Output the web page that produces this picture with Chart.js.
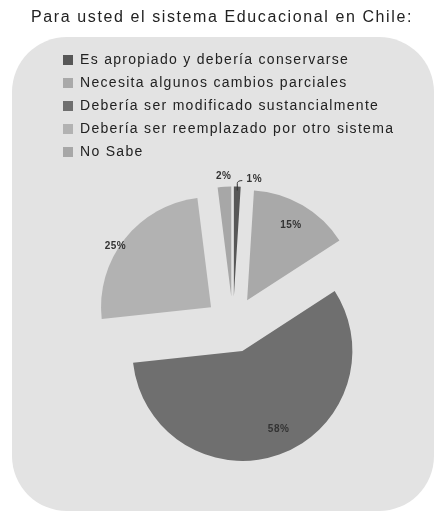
<!DOCTYPE html>
<html>
<head>
<meta charset="utf-8">
<script src="https://cdn.jsdelivr.net/npm/chart.js@4"></script>
<style>
  html, body { margin: 0; padding: 0; background: #fff; }
  #wrap { width: 436px; height: 519px; }
</style>
</head>
<body>
<div id="wrap"><canvas id="pie-chart"></canvas></div>
<script>
// data
const chartTitle = "Para usted el sistema Educacional en Chile:";
const categories = [
    "Es apropiado y debería conservarse",
    "Necesita algunos cambios parciales",
    "Debería ser modificado sustancialmente",
    "Debería ser reemplazado por otro sistema",
    "No Sabe"
];
const percents = [1, 15, 58, 25, 2];

// styling
const sliceColors = ["#575757", "#a9a9a9", "#6f6f6f", "#b2b2b2", "#a7a7a7"];
const sliceShift = [28, 28, 28, 28, 28];   // exploded pie, px
const labelRadius = [1.0, 0.79, 0.78, 1.03, 1.1];
const labelTurn = [0, 0, -0.07, -0.08, 0];  // radians, nudges label off the mid angle

// grey rounded panel + title
const panel = {
    id: 'panel',
    beforeDraw(chart) {
        const ctx = chart.ctx;
        ctx.save();
        ctx.fillStyle = '#ffffff';
        ctx.fillRect(0, 0, chart.width, chart.height);
        ctx.fillStyle = '#e3e3e3';
        ctx.beginPath();
        ctx.roundRect(12, 37, 422, 474, 55);
        ctx.fill();
        ctx.letterSpacing = '1.6px';
        ctx.font = '16px "Liberation Sans"';
        ctx.fillStyle = '#222';
        ctx.textAlign = 'center';
        ctx.textBaseline = 'middle';
        ctx.fillText(chartTitle, 222, 18);
        ctx.restore();
        ctx.letterSpacing = '1.3px';
    }
};

// pull every slice out from the centre without narrowing it
const explode = {
    id: 'explode',
    beforeDatasetDraw(chart, args) {
        const ctx = chart.ctx;
        args.meta.data.forEach((arc, i) => {
            const mid = (arc.startAngle + arc.endAngle) / 2;
            ctx.save();
            ctx.translate(Math.cos(mid) * sliceShift[i], Math.sin(mid) * sliceShift[i]);
            arc.draw(ctx);
            ctx.restore();
        });
        return false;
    }
};

// percentage labels on the slices
const sliceLabels = {
    id: 'sliceLabels',
    afterDatasetsDraw(chart) {
        const ctx = chart.ctx;
        const arcs = chart.getDatasetMeta(0).data;
        ctx.save();
        ctx.letterSpacing = '0.5px';
        ctx.font = 'bold 10px "Liberation Sans"';
        ctx.fillStyle = '#333';
        ctx.textAlign = 'center';
        ctx.textBaseline = 'middle';
        arcs.forEach((arc, i) => {
            const p = arc.getProps(['x', 'y', 'startAngle', 'endAngle', 'outerRadius']);
            const mid = (p.startAngle + p.endAngle) / 2;
            const ang = mid + labelTurn[i];
            const d = sliceShift[i] + p.outerRadius * labelRadius[i];
            let x = p.x + Math.cos(ang) * d;
            let y = p.y + Math.sin(ang) * d;
            if (i === 0) {
                // leader line for the tiny slice
                ctx.strokeStyle = '#333';
                ctx.lineWidth = 1;
                ctx.beginPath();
                ctx.moveTo(x, y + 4);
                ctx.lineTo(x, y - 3);
                ctx.quadraticCurveTo(x, y - 6, x + 5, y - 6);
                ctx.stroke();
                x = x + 17;
                y = y - 7;
            }
            ctx.fillText(percents[i] + '%', x, y);
        });
        ctx.restore();
    }
};

new Chart(document.getElementById("pie-chart"), {
    type: 'pie',
    data: {
        labels: categories,
        datasets: [{
            data: percents,
            backgroundColor: sliceColors,
            borderWidth: 0,
            radius: 110
        }]
    },
    plugins: [panel, explode, sliceLabels],
    options: {
        responsive: true,
        maintainAspectRatio: false,
        animation: false,
        layout: {
            padding: { left: 54, right: 24, top: 44, bottom: 39 }
        },
        plugins: {
            tooltip: { enabled: false },
            title: { display: false },
            legend: {
                position: 'top',
                align: 'start',
                labels: {
                    boxWidth: 10,
                    boxHeight: 10,
                    padding: 9,
                    color: '#222',
                    font: { family: 'Liberation Sans', size: 14 }
                }
            }
        }
    }
});
</script>
</body>
</html>
